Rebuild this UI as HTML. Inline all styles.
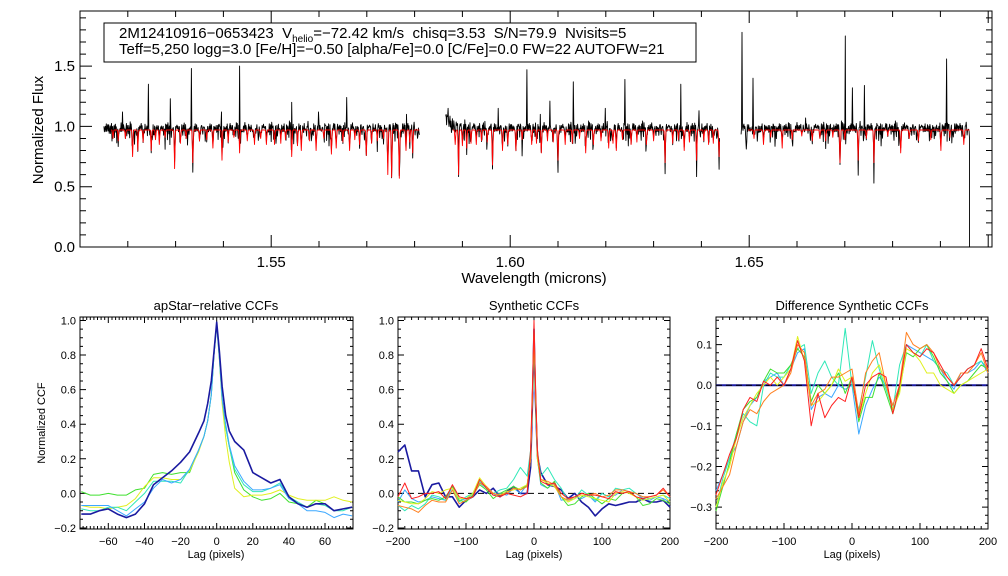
<!DOCTYPE html>
<html><head><meta charset="utf-8"><style>
html,body{margin:0;padding:0;background:#fff;}
svg{display:block;font-family:"Liberation Sans",sans-serif;}
</style></head><body>
<svg id="fig" width="1008" height="576" viewBox="0 0 1008 576" xmlns="http://www.w3.org/2000/svg">
<rect x="0" y="0" width="1008" height="576" fill="#fff"/>
<g id="top"></g>
<g id="p1"></g>
<g id="p2"></g>
<g id="p3"></g>
</svg>
<script>
// ---------- spectrum data ----------
const segStart=[1.5150,1.5865,1.6483];
const segEnd=[1.5810,1.6438,1.6961];
const segLevel=[1.0,1.1,1.0];
const redLineWl=[1.5169,1.5210,1.5221,1.5249,1.5266,1.5298,1.5336,1.5378,1.5397,1.5434,1.5465,1.5490,1.5507,1.5543,1.5563,1.5594,1.5626,1.5636,1.5664,1.5685,1.5699,1.5744,1.5752,1.5768,1.5782,1.5796,
1.5885,1.5892,1.5909,1.5929,1.5963,1.5984,1.6012,1.6045,1.6065,1.6100,1.6115,1.6158,1.6174,1.6206,1.6222,1.6253,1.6285,1.6324,1.6364,1.6390,1.6415,1.6437,
1.6494,1.6530,1.6569,1.6632,1.6660,1.6690,1.6728,1.6761,1.6817,1.6854,1.6901,1.6949];
const redLineMin=[0.90,0.75,0.80,0.80,0.85,0.65,0.70,0.82,0.72,0.78,0.85,0.85,0.85,0.75,0.80,0.80,0.77,0.82,0.80,0.85,0.76,0.60,0.58,0.57,0.80,0.78,
0.85,0.60,0.82,0.85,0.68,0.80,0.80,0.85,0.78,0.72,0.85,0.78,0.85,0.82,0.80,0.85,0.85,0.70,0.80,0.72,0.85,0.75,
0.76,0.85,0.82,0.88,0.88,0.70,0.72,0.70,0.78,0.88,0.80,0.85];
const weakLineWl=[1.5180,1.5195,1.5232,1.5258,1.5278,1.5310,1.5322,1.5350,1.5365,1.5410,1.5422,1.5450,1.5478,1.5520,1.5530,1.5555,1.5580,1.5610,1.5650,1.5675,1.5710,1.5722,1.5735,1.5790,
1.5900,1.5918,1.5940,1.5952,1.5995,1.6025,1.6055,1.6078,1.6090,1.6130,1.6145,1.6190,1.6215,1.6235,1.6265,1.6300,1.6340,1.6352,1.6375,1.6405,1.6425,
1.6510,1.6545,1.6590,1.6610,1.6648,1.6675,1.6700,1.6745,1.6790,1.6835,1.6880,1.6920];
const weakLineMin=[0.88,0.90,0.87,0.89,0.91,0.86,0.90,0.88,0.89,0.87,0.91,0.88,0.90,0.86,0.89,0.84,0.88,0.90,0.87,0.89,0.86,0.88,0.90,0.87,
0.84,0.86,0.88,0.87,0.85,0.89,0.86,0.88,0.87,0.86,0.90,0.88,0.86,0.89,0.87,0.88,0.86,0.89,0.87,0.88,0.86,
0.90,0.91,0.89,0.92,0.90,0.91,0.89,0.90,0.92,0.90,0.89,0.91];
const blackDipWl=[1.5336,1.5543,1.5892,1.6100,1.6324,1.6437,1.6690,1.6728,1.6761,1.5298,1.5768,1.5752,1.5963,1.6390];
const blackDipMin=[0.61,0.67,0.58,0.68,0.65,0.62,0.67,0.62,0.54,0.68,0.57,0.56,0.67,0.67];
const spikeWl=[1.5189,1.5243,1.5289,1.5333,1.5396,1.5434,1.5543,1.5599,1.5658,1.5783,
1.5870,1.5975,1.6035,1.6063,1.6083,1.6132,1.6199,1.6240,1.6357,1.6395,
1.6485,1.6508,1.6618,1.6701,1.6716,1.6741,1.6913];
const spikeVal=[1.12,1.35,1.23,1.48,1.12,1.50,1.20,1.12,1.24,1.10,
1.15,1.15,1.47,1.10,1.21,1.37,1.15,1.39,1.35,1.13,
1.78,1.40,1.07,1.75,1.32,1.34,1.56];
const jitter=[0.3,-0.8,0.5,-0.2,0.9,-0.6,0.1,-1.0,0.7,-0.3,0.4,-0.9,0.2,0.8,-0.5,0.0,-0.7,0.6,-0.1,1.0,-0.4,0.3,-0.8,0.5,-0.2,0.7,-0.6,0.2,-0.9,0.4,-0.3];
const jitter2=[0,0,-1.5,0,0.4,0,0,-0.8,0,0,0.3,-2.2,0,0,-0.6,0,0.5,0,-1.2,0,0,0,-0.4,0,-3.0,0,0.6,0,0,-1.0,0,0,0.2,-0.7,0,0,-1.8];
const topXTicks=[1.55,1.60,1.65];
const topYTicks=[0.0,0.5,1.0,1.5];

// ---------- CCF data ----------
const lag1=[-75,-70,-65,-60,-55,-50,-45,-40,-35,-30,-25,-20,-15,-10,-7,-5,-3,-1.5,0,1.5,3,5,7,10,15,20,25,30,35,40,45,50,55,60,65,70,75];
const ccf1Navy=[-0.12,-0.12,-0.10,-0.09,-0.12,-0.14,-0.12,-0.06,0.05,0.09,0.13,0.18,0.24,0.35,0.42,0.52,0.65,0.82,0.99,0.82,0.62,0.45,0.36,0.30,0.25,0.12,0.09,0.06,0.08,-0.02,-0.06,-0.08,-0.06,-0.06,-0.10,-0.09,-0.08];
const ccf1Blue=[-0.07,-0.07,-0.07,-0.07,-0.10,-0.13,-0.09,-0.05,0.03,0.08,0.06,0.08,0.14,0.25,0.33,0.42,0.57,0.80,0.98,0.78,0.55,0.40,0.28,0.16,0.07,0.02,0.02,0.03,0.05,-0.03,-0.06,-0.10,-0.10,-0.11,-0.14,-0.12,-0.13];
const ccf1Cyan=[-0.09,-0.10,-0.10,-0.08,-0.08,-0.10,-0.05,0.00,0.07,0.07,0.07,0.06,0.14,0.25,0.33,0.42,0.57,0.80,0.97,0.78,0.55,0.38,0.27,0.14,0.05,0.01,0.01,0.03,0.06,-0.02,-0.05,-0.08,-0.06,-0.07,-0.10,-0.10,-0.08];
const ccf1Green=[0.01,-0.01,-0.01,0.00,-0.01,-0.01,0.02,0.03,0.11,0.12,0.11,0.12,0.12,0.25,0.33,0.42,0.57,0.80,0.99,0.78,0.55,0.38,0.27,0.12,0.02,-0.02,-0.04,-0.03,0.00,-0.05,-0.06,-0.08,-0.04,-0.06,-0.10,-0.09,-0.08];
const ccf1Yellow=[-0.07,-0.08,-0.08,-0.09,-0.08,-0.07,-0.03,0.04,0.09,0.09,0.08,0.08,0.13,0.24,0.33,0.42,0.57,0.80,0.98,0.77,0.52,0.32,0.18,0.03,-0.02,-0.01,-0.01,0.00,0.02,-0.01,-0.03,-0.04,-0.04,-0.04,-0.02,-0.04,-0.05];

const lag2=[-200,-190,-180,-170,-160,-150,-140,-130,-120,-110,-100,-90,-80,-70,-60,-50,-40,-30,-20,-10,-5,-2,0,2,5,10,20,30,40,50,60,70,80,90,100,110,120,130,140,150,160,170,180,190,200];
const ccf2Navy=[0.24,0.28,0.13,0.13,-0.02,0.05,0.06,-0.02,-0.02,-0.08,-0.04,-0.02,0.02,0.0,0.03,-0.02,0.01,0.04,0.0,0.0,0.15,0.55,0.95,0.55,0.22,0.12,0.05,0.04,0.02,-0.03,0.0,-0.05,-0.08,-0.13,-0.09,-0.06,-0.07,-0.06,-0.05,-0.05,-0.03,-0.05,-0.05,-0.04,-0.08];
const ccf2Blue=[-0.05,0.02,-0.03,-0.05,-0.04,-0.02,-0.03,-0.04,0.04,-0.03,-0.04,0.0,0.06,0.03,-0.01,0.0,-0.01,0.03,0.0,0.05,0.2,0.6,0.93,0.6,0.2,0.05,0.03,0.06,-0.04,-0.03,-0.02,-0.03,-0.01,-0.05,0.0,-0.02,-0.01,0.02,0.01,0.0,-0.03,-0.04,-0.02,-0.03,-0.05];
const ccf2Cyan=[-0.07,-0.1,-0.07,-0.09,-0.06,-0.01,-0.02,-0.04,0.02,-0.05,-0.02,0.0,0.07,0.03,0.0,0.02,0.03,0.08,0.15,0.1,0.25,0.6,0.9,0.6,0.25,0.1,0.15,0.08,0.03,-0.04,-0.03,0.02,-0.01,-0.04,0.0,-0.02,0.03,0.02,0.03,0.0,-0.02,-0.03,-0.02,-0.01,-0.03];
const ccf2Green=[-0.02,-0.05,-0.05,-0.06,-0.04,-0.03,-0.04,-0.02,0.04,-0.04,-0.05,-0.01,0.05,0.02,-0.03,0.0,0.02,0.04,0.02,0.05,0.2,0.6,0.93,0.6,0.2,0.06,0.03,0.07,-0.02,-0.07,-0.06,-0.02,0.0,-0.03,-0.06,-0.03,-0.04,0.0,0.01,-0.02,-0.07,-0.06,-0.03,-0.04,-0.06];
const ccf2Yellow=[-0.04,-0.05,-0.06,-0.06,-0.03,0.01,0.0,0.02,0.03,-0.03,-0.03,0.0,0.09,0.04,0.0,-0.01,0.01,0.02,0.03,0.05,0.2,0.6,0.94,0.6,0.2,0.08,0.06,0.04,-0.02,-0.05,-0.03,-0.01,-0.02,-0.03,-0.04,-0.05,0.0,0.01,0.0,-0.02,-0.04,-0.03,-0.02,-0.01,-0.05];
const ccf2Orange=[-0.07,-0.08,-0.09,-0.11,-0.07,-0.04,-0.05,-0.05,0.02,-0.06,-0.04,-0.02,0.06,0.04,0.0,-0.01,0.0,0.03,0.02,0.04,0.2,0.6,0.95,0.65,0.22,0.08,0.07,0.05,-0.02,-0.04,-0.02,0.0,-0.01,0.0,-0.02,-0.01,0.02,0.02,0.01,0.0,-0.02,-0.02,-0.01,0.02,-0.02];
const ccf2Red=[-0.02,0.06,-0.03,-0.02,0.0,0.0,0.01,-0.03,0.05,-0.02,-0.03,-0.02,0.08,0.03,-0.01,-0.02,0.0,-0.01,-0.02,0.0,0.25,0.65,1.0,0.65,0.25,0.07,0.05,0.06,0.0,-0.03,-0.02,0.0,-0.01,-0.01,-0.02,-0.03,0.01,0.0,0.01,-0.02,-0.03,-0.02,-0.01,0.03,-0.02];

const lag3=[-200,-190,-180,-170,-160,-150,-140,-130,-120,-110,-100,-90,-80,-70,-60,-50,-40,-30,-20,-10,0,10,20,30,40,50,60,70,80,90,100,110,120,130,140,150,160,170,180,190,200];
const diffNavy=[0,0,0,0,0,0,0,0,0,0,0,0,0,0,0,0,0,0,0,0,0,0,0,0,0,0,0,0,0,0,0,0,0,0,0,0,0,0,0,0,0];
const diffBlue=[-0.26,-0.22,-0.18,-0.15,-0.09,-0.05,-0.03,0.01,0.02,0.03,0.0,0.04,0.08,0.09,-0.06,-0.03,-0.02,-0.03,0.0,-0.01,0.0,-0.12,-0.05,-0.01,0.02,0.0,-0.05,0.0,0.1,0.09,0.08,0.07,0.06,0.04,0.01,-0.01,0.03,0.03,0.04,0.06,0.03];
const diffCyan=[-0.3,-0.23,-0.18,-0.12,-0.07,-0.09,-0.1,0.0,0.03,0.02,0.02,0.05,0.09,0.1,-0.02,0.03,0.06,0.02,0.0,0.14,0.0,-0.06,0.02,0.11,0.04,-0.01,-0.06,0.05,0.1,0.08,0.07,0.1,0.06,0.04,0.03,0.0,0.02,0.04,0.05,0.06,0.04];
const diffGreen=[-0.31,-0.25,-0.19,-0.12,-0.06,-0.04,-0.03,0.01,0.04,0.03,0.03,0.05,0.09,0.07,-0.04,0.0,-0.02,0.0,0.03,-0.02,0.02,-0.09,-0.03,-0.03,0.03,-0.02,-0.07,-0.01,0.08,0.07,0.09,0.1,0.07,0.03,0.01,-0.02,0.0,0.01,0.03,0.05,0.04];
const diffYellow=[-0.3,-0.24,-0.2,-0.13,-0.08,-0.05,-0.02,0.0,0.02,0.0,0.02,0.04,0.12,0.06,-0.05,-0.04,-0.02,0.0,0.04,0.01,0.02,-0.08,-0.02,0.03,0.05,0.0,-0.06,-0.02,0.09,0.08,0.06,0.03,0.03,0.0,-0.01,-0.02,0.0,0.01,0.02,0.03,0.04];
const diffOrange=[-0.28,-0.25,-0.22,-0.15,-0.09,-0.06,-0.07,-0.04,-0.02,-0.01,0.0,0.03,0.1,0.08,-0.05,-0.02,-0.01,0.02,0.02,0.03,0.04,-0.07,0.03,0.06,0.08,0.0,-0.05,0.0,0.13,0.1,0.09,0.1,0.08,0.04,0.02,0.0,0.03,0.03,0.05,0.08,0.03];
const diffRed=[-0.27,-0.22,-0.17,-0.13,-0.06,-0.03,-0.04,0.01,0.0,0.02,0.0,0.04,0.11,0.06,-0.1,-0.02,-0.08,-0.05,-0.03,-0.04,0.02,-0.08,0.0,0.02,0.03,0.02,-0.07,0.0,0.1,0.08,0.07,0.09,0.08,0.05,0.02,0.0,0.02,0.04,0.05,0.09,0.04];

const NS="http://www.w3.org/2000/svg";
function mk(parent,tag,attrs,txt){const e=document.createElementNS(NS,tag);for(const k in attrs)e.setAttribute(k,attrs[k]);if(txt!==undefined)e.textContent=txt;parent.appendChild(e);return e;}
function scale(d0,d1,r0,r1){return v=>r0+(v-d0)*(r1-r0)/(d1-d0);}

function axes(g,box,xd,yd,xMaj,xMin,yMaj,yMin,majLen,minLen){
  const X=scale(xd[0],xd[1],box.x0,box.x1),Y=scale(yd[0],yd[1],box.y1,box.y0);
  let d="";
  const eps=1e-9;
  for(let v=Math.ceil(xd[0]/xMin-eps)*xMin;v<=xd[1]+eps;v+=xMin){
    const isMaj=Math.abs(v/xMaj-Math.round(v/xMaj))<1e-6;const L=isMaj?majLen:minLen;const x=X(v).toFixed(1);
    d+=`M${x},${box.y1}V${box.y1-L}M${x},${box.y0}V${box.y0+L}`;
  }
  for(let v=Math.ceil(yd[0]/yMin-eps)*yMin;v<=yd[1]+eps;v+=yMin){
    const isMaj=Math.abs(v/yMaj-Math.round(v/yMaj))<1e-6;const L=isMaj?majLen:minLen;const y=Y(v).toFixed(1);
    d+=`M${box.x0},${y}H${box.x0+L}M${box.x1},${y}H${box.x1-L}`;
  }
  const t=mk(g,"path",{d:d,stroke:"#000","stroke-width":1,fill:"none"});
  
  
  const f=mk(g,"rect",{x:box.x0,y:box.y0,width:box.x1-box.x0,height:box.y1-box.y0,fill:"none",stroke:"#000","stroke-width":1});
  
  
  return {X,Y};
}
function line(g,xs,ys,X,Y,color,w,name){
  const pts=xs.map((x,i)=>X(x).toFixed(1)+","+Y(ys[i]).toFixed(1)).join(" ");
  const p=mk(g,"polyline",{points:pts,fill:"none",stroke:color,"stroke-width":w,"stroke-linejoin":"round"});
  
  
  return p;
}
function label(g,x,y,txt,fs,anchor,name,rot){
  const a={x:x,y:y,"font-size":fs,"text-anchor":anchor||"middle",fill:"#000"};
  if(rot)a.transform=`rotate(-90 ${x} ${y})`;
  const t=mk(g,"text",a,txt);
  
  
  return t;
}

// ---------- top spectrum ----------
(function(){
  const g=document.getElementById("top");
  const box={x0:80,x1:992,y0:11,y1:247};
  const {X,Y}=axes(g,box,[1.51,1.7008],[0,1.957],0.05,0.01,0.5,0.1,12,6);
  topXTicks.forEach(v=>label(g,X(v),267,v.toFixed(2),15,"middle","x-tick-label"));
  topYTicks.forEach(v=>label(g,75,Y(v)+5,v.toFixed(1),15,"end","y-tick-label"));
  label(g,534,283,"Wavelength (microns)",15,"middle","x-axis-title");
  label(g,43,130,"Normalized Flux",15,"middle","y-axis-title",true);
  const step=0.0001;
  for(let s=0;s<segStart.length;s++){
    const wl=[],bk=[],rd=[];
    let i=0;
    for(let w=segStart[s];w<=segEnd[s]+1e-9;w+=step,i++){
      let r=0.97,b=segLevel[s]===1.0?0.99:0.99+(segLevel[s]-1.0)*Math.exp(-(w-segStart[s])/0.002);
      for(let k=0;k<redLineWl.length;k++){
        const dd=(w-redLineWl[k])/0.00011;if(Math.abs(dd)<4){const gg=Math.exp(-dd*dd);r-=(0.97-redLineMin[k])*gg;b-=(0.97-redLineMin[k])*0.9*gg;}
      }
      for(let k=0;k<weakLineWl.length;k++){
        const dd=(w-weakLineWl[k])/0.0001;if(Math.abs(dd)<4){const gg=Math.exp(-dd*dd);r-=(0.97-weakLineMin[k])*gg;b-=(0.97-weakLineMin[k])*gg;}
      }
      for(let k=0;k<blackDipWl.length;k++){
        if(Math.abs(w-blackDipWl[k])<step*0.6)b=Math.min(b,blackDipMin[k]);
      }
      b+=0.035*jitter[(i*7+s*3)%jitter.length]+0.04*jitter2[(i*5+s)%jitter2.length];
      for(let k=0;k<spikeWl.length;k++){
        if(Math.abs(w-spikeWl[k])<step*0.6)b=spikeVal[k];
      }
      wl.push(w);bk.push(b);rd.push(r);
    }
    if(s===2){wl.push(segEnd[s]);bk.push(0.0);rd.push(rd[rd.length-1]);}
    line(g,wl,bk,X,Y,"#000",0.9,"observed-spectrum-segment-"+(s+1));
    line(g,wl.slice(15),rd.slice(15),X,Y,"#ff0000",0.9,"synthetic-spectrum-segment-"+(s+1));
  }
  const bx=mk(g,"rect",{x:104,y:23,width:592,height:39,fill:"#fff",stroke:"#000","stroke-width":1});
  
  
  const t1=mk(g,"text",{x:119,y:38,"font-size":15,"xml:space":"preserve",style:"white-space:pre"});
  
  
  mk(t1,"tspan",{},"2M12410916\u22120653423  V");
  mk(t1,"tspan",{"font-size":10,dy:4},"helio");
  mk(t1,"tspan",{dy:-4},"=\u221272.42 km/s  chisq=3.53  S/N=79.9  Nvisits=5");
  label(g,119,54,"Teff=5,250 logg=3.0 [Fe/H]=\u22120.50 [alpha/Fe]=0.0 [C/Fe]=0.0 FW=22 AUTOFW=21",15,"start","stellar-params-line");
})();

const cols={navy:"#1a1aa0",blue:"#3ca8ff",cyan:"#30e8b8",green:"#40e030",yellow:"#e0f020",orange:"#ff8020",red:"#ff2020"};
function minus(v,d){return (v<0?"\u2212":"")+Math.abs(v).toFixed(d);}

// ---------- panel 1 ----------
(function(){
  const g=document.getElementById("p1");
  const box={x0:80,x1:353,y0:317,y1:529};
  const {X,Y}=axes(g,box,[-75.7,75.5],[-0.206,1.02],20,2,0.2,0.05,6,3);
  [-60,-40,-20,0,20,40,60].forEach(v=>label(g,X(v),545,minus(v,0),11,"middle","x-tick-label"));
  [-0.2,0,0.2,0.4,0.6,0.8,1.0].forEach(v=>label(g,76,Y(v)+4,minus(v,1),11,"end","y-tick-label"));
  label(g,216,558,"Lag (pixels)",11,"middle","x-axis-title");
  label(g,45,423,"Normalized CCF",11,"middle","y-axis-title",true);
  label(g,216,310,"apStar\u2212relative CCFs",13,"middle","panel-title");
  line(g,lag1,ccf1Green,X,Y,cols.green,1,"ccf-visit-green");
  line(g,lag1,ccf1Yellow,X,Y,cols.yellow,1,"ccf-visit-yellow");
  line(g,lag1,ccf1Cyan,X,Y,cols.cyan,1,"ccf-visit-cyan");
  line(g,lag1,ccf1Blue,X,Y,cols.blue,1,"ccf-visit-blue");
  line(g,lag1,ccf1Navy,X,Y,cols.navy,1.6,"ccf-combined-navy");
})();

// ---------- panel 2 ----------
(function(){
  const g=document.getElementById("p2");
  const box={x0:398,x1:670,y0:317,y1:529};
  const {X,Y}=axes(g,box,[-200,200],[-0.206,1.02],100,10,0.2,0.05,6,3);
  [-200,-100,0,100,200].forEach(v=>label(g,X(v),545,minus(v,0),11,"middle","x-tick-label"));
  [-0.2,0,0.2,0.4,0.6,0.8,1.0].forEach(v=>label(g,394,Y(v)+4,minus(v,1),11,"end","y-tick-label"));
  label(g,534,558,"Lag (pixels)",11,"middle","x-axis-title");
  label(g,534,310,"Synthetic CCFs",13,"middle","panel-title");
  const z=mk(g,"line",{x1:X(-200),x2:X(200),y1:Y(0),y2:Y(0),stroke:"#000","stroke-width":1,"stroke-dasharray":"6,4"});
  
  
  line(g,lag2,ccf2Navy,X,Y,cols.navy,1.6,"ccf-combined-navy");
  line(g,lag2,ccf2Blue,X,Y,cols.blue,1,"ccf-visit-blue");
  line(g,lag2,ccf2Cyan,X,Y,cols.cyan,1,"ccf-visit-cyan");
  line(g,lag2,ccf2Green,X,Y,cols.green,1,"ccf-visit-green");
  line(g,lag2,ccf2Yellow,X,Y,cols.yellow,1,"ccf-visit-yellow");
  line(g,lag2,ccf2Orange,X,Y,cols.orange,1,"ccf-visit-orange");
  line(g,lag2,ccf2Red,X,Y,cols.red,1,"ccf-visit-red");
})();

// ---------- panel 3 ----------
(function(){
  const g=document.getElementById("p3");
  const box={x0:716,x1:988,y0:317,y1:529};
  const {X,Y}=axes(g,box,[-200,200],[-0.354,0.168],100,10,0.1,0.02,6,3);
  [-200,-100,0,100,200].forEach(v=>label(g,X(v),545,minus(v,0),11,"middle","x-tick-label"));
  [-0.3,-0.2,-0.1,0,0.1].forEach(v=>label(g,712,Y(v)+4,minus(v,1),11,"end","y-tick-label"));
  label(g,852,558,"Lag (pixels)",11,"middle","x-axis-title");
  label(g,852,310,"Difference Synthetic CCFs",13,"middle","panel-title");
  line(g,lag3,diffNavy,X,Y,cols.navy,2,"diff-combined-navy");
  const z=mk(g,"line",{x1:X(-200),x2:X(200),y1:Y(0),y2:Y(0),stroke:"#000","stroke-width":1,"stroke-dasharray":"6,4"});
  
  
  line(g,lag3,diffBlue,X,Y,cols.blue,1,"diff-visit-blue");
  line(g,lag3,diffCyan,X,Y,cols.cyan,1,"diff-visit-cyan");
  line(g,lag3,diffGreen,X,Y,cols.green,1,"diff-visit-green");
  line(g,lag3,diffYellow,X,Y,cols.yellow,1,"diff-visit-yellow");
  line(g,lag3,diffOrange,X,Y,cols.orange,1,"diff-visit-orange");
  line(g,lag3,diffRed,X,Y,cols.red,1,"diff-visit-red");
})();
</script>
</body></html>
